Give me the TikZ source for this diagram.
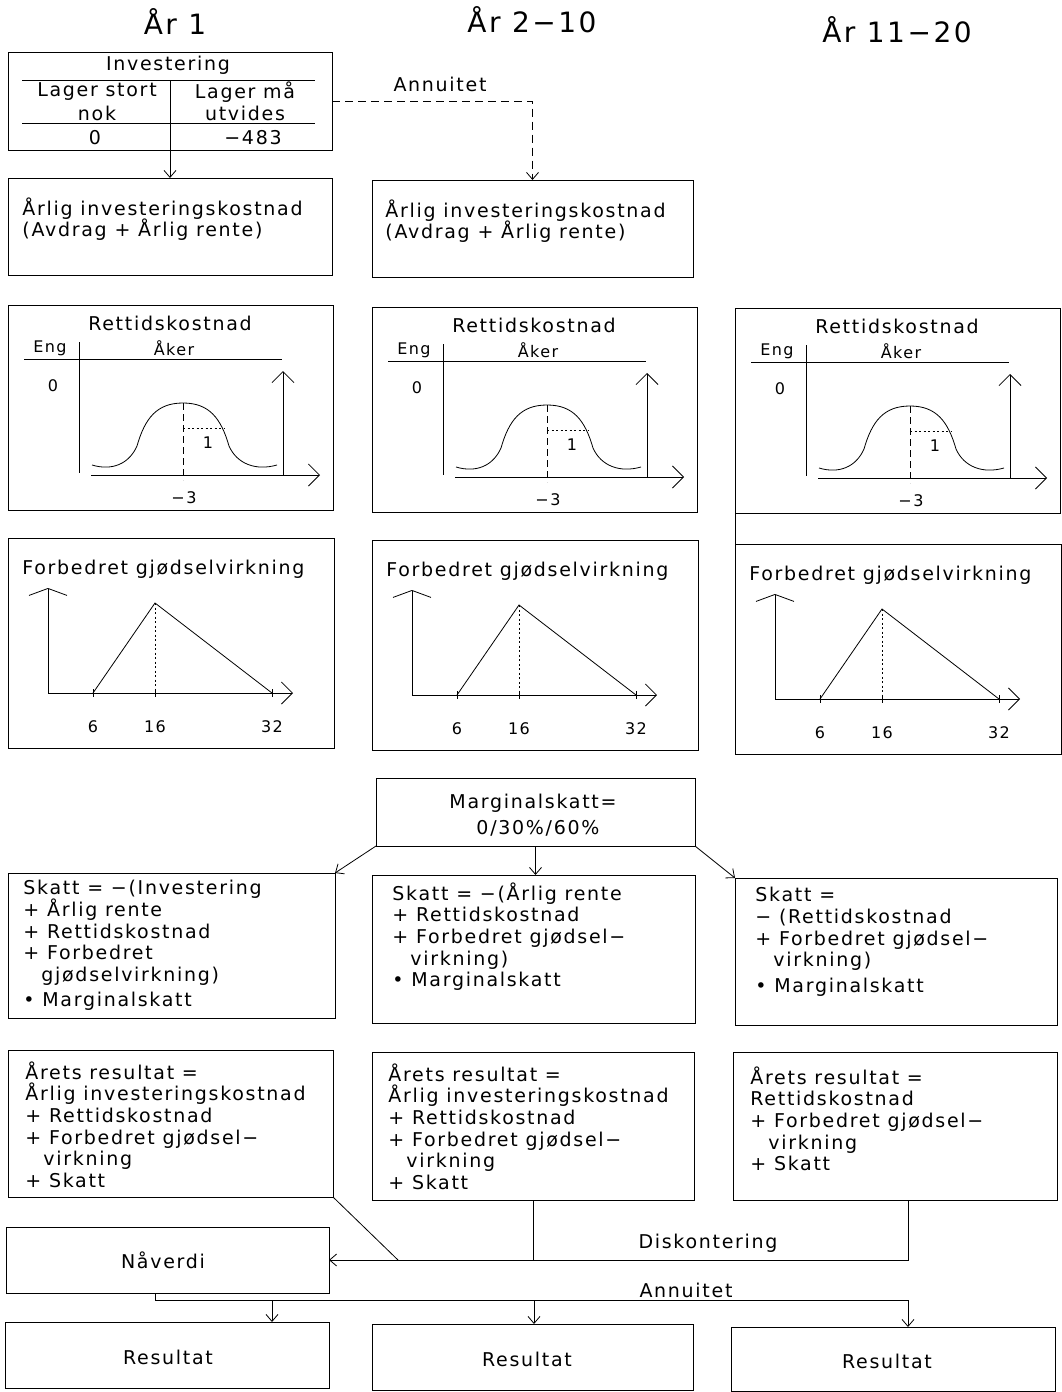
\documentclass[tikz,border=0pt]{standalone}
\usepackage{fontspec}
\setmainfont{DejaVu Sans}[LetterSpace=9]
\usetikzlibrary{arrows.meta}
\newcommand\mybox[5]{\node[boxsty, minimum width={(#4-#2)*1pt}, minimum height={(#5-#3)*1pt}] (#1) at (#2,#3) {};}
\newcommand\rettgraph[3]{%
\begin{scope}[shift={(#2,#3)}]
\mybox{#1box}{8}{305}{333}{510}
\node[txt] (#1title) at (170,323) {Rettidskostnad};
\node[stxt] (#1eng) at (50,348) {Eng};
\node[stxt] (#1aker) at (174,348) {Åker};
\node[stxt] (#1zero) at (53,386) {0};
\node[ttxt] (#1one) at (208,443) {1};
\node[ttxt] (#1m3) at (184,498) {−3};
\draw (24,359) -- (282,359);
\draw (79,342) -- (79,473);
\draw[axarrow] (91,475) -- (320,475);
\draw[axarrow] (283,475) -- (283,371);
\draw (92,465) .. controls (112,471) and (129,464) .. (137,446)
  .. controls (145,418) and (157,403) .. (183,403)
  .. controls (209,403) and (221,418) .. (229,446)
  .. controls (237,464) and (256,471) .. (277,465);
\draw[dash pattern=on 7pt off 4pt] (183,403) -- (183,480);
\draw[dash pattern=on 2pt off 2.5pt] (183,428) -- (224,428);
\end{scope}}
\newcommand\forbgraph[3]{%
\begin{scope}[shift={(#2,#3)}]
\mybox{#1box}{8}{538}{334}{748}
\node[txt, anchor=west] (#1title) at (22,569) {Forbedret gjødselvirkning};
\draw[yarrow] (48,693) -- (48,588);
\draw[axarrow] (48,693) -- (293,693);
\draw (93,693) -- (155,603) -- (272,693);
\draw[dash pattern=on 2pt off 2.5pt] (155,603) -- (155,693);
\draw (93,689) -- (93,697) (155,689) -- (155,697) (272,689) -- (272,697);
\node[stxt] (#1six) at (93,727) {6};
\node[stxt] (#1sixteen) at (155,727) {16};
\node[stxt] (#1tt) at (272,727) {32};
\end{scope}}
\begin{document}
\begin{tikzpicture}[x=1pt,y=-1pt, line width=0.8pt,
 boxsty/.style={draw, line width=0.9pt, inner sep=0pt, outer sep=0pt, anchor=north west},
 txt/.style={inner sep=0pt, font=\fontsize{19}{21.7}\selectfont},
 mtxt/.style={txt, align=left, anchor=north west},
 stxt/.style={inner sep=0pt, font=\fontsize{16}{18}\selectfont},
 ttxt/.style={inner sep=0pt, font=\fontsize{16}{18}\selectfont},
 htxt/.style={inner sep=0pt, font=\fontsize{28}{32}\selectfont},
 conn/.style={-{Straight Barb[length=7pt,width=12pt]}},
 axarrow/.style={-{Straight Barb[length=11pt,width=22pt]}},
 yarrow/.style={-{Straight Barb[length=7pt,width=38pt]}},
 ]
\useasboundingbox (0,0) rectangle (1062,1392);
\fill[white] (0,0) rectangle (1062,1392);

% headers
\node[htxt] (h1) at (175,22) {År 1};
\node[htxt] (h2) at (532,20) {År 2−10};
\node[htxt] (h3) at (897,30) {År 11−20};

% investering
\mybox{inv}{8}{52}{332}{150}
\node[txt] (invt) at (168,65) {Investering};
\draw (22,80) -- (315,80) (22,123) -- (315,123) (170,80) -- (170,150);
\node[txt] (ls) at (97,92) {Lager stort};
\node[txt] (nok) at (97,113) {nok};
\node[txt] (lm) at (245,92) {Lager må};
\node[txt] (utv) at (245,113) {utvides};
\node[txt] (z0) at (95,138) {0};
\node[txt] (m483) at (253,138) {−483};

% aarlig
\mybox{ar1}{8}{178}{332}{275}
\node[mtxt] (ar1t) at (22,197) {Årlig investeringskostnad\\(Avdrag + Årlig rente)};
\mybox{ar2}{372}{180}{693}{277}
\node[mtxt] (ar2t) at (385,199) {Årlig investeringskostnad\\(Avdrag + Årlig rente)};
\draw[conn] (inv.south) -- (ar1.north);
\draw[conn, dash pattern=on 8pt off 5pt] (inv.east) -| (ar2.north);
\node[txt] (ann1) at (440,84) {Annuitet};

% graphs
\rettgraph{ra}{0}{0}
\rettgraph{rb}{364}{2}
\rettgraph{rc}{727}{3}
\forbgraph{fa}{0}{0}
\forbgraph{fb}{364}{2}
\forbgraph{fc}{727}{6}
\draw (rcbox.south west) -- (fcbox.north west);

% marginalskatt
\mybox{marg}{376}{778}{695}{846}
\node[txt] (margt1) at (533,803) {Marginalskatt=};
\node[txt] (margt2) at (538,828) {0/30\%/60\%};

% skatt
\mybox{sk1}{8}{873}{335}{1018}
\mybox{sk2}{372}{875}{695}{1023}
\mybox{sk3}{735}{878}{1057}{1025}
\draw[conn] (marg.south west) -- (sk1.north east);
\draw[conn] (marg.south) -- (marg.south |- sk2.north);
\draw[conn] (marg.south east) -- (sk3.north west);
\node[mtxt] (sk1t) at (23,880) {Skatt = −(Investering\\+ Årlig rente\\+ Rettidskostnad\\+ Forbedret\\\hspace*{18pt}gjødselvirkning)\\[3pt]• Marginalskatt};
\node[mtxt] (sk2t) at (392,882) {Skatt = −(Årlig rente\\+ Rettidskostnad\\+ Forbedret gjødsel−\\\hspace*{18pt}virkning)\\• Marginalskatt};
\node[mtxt] (sk3t) at (755,887) {Skatt =\\− (Rettidskostnad\\+ Forbedret gjødsel−\\\hspace*{18pt}virkning)\\[4pt]• Marginalskatt};

% aarets resultat
\mybox{rs1}{8}{1050}{333}{1197}
\mybox{rs2}{372}{1052}{694}{1200}
\mybox{rs3}{733}{1052}{1057}{1200}
\node[mtxt] (rs1t) at (25,1061) {Årets resultat =\\Årlig investeringskostnad\\+ Rettidskostnad\\+ Forbedret gjødsel−\\\hspace*{18pt}virkning\\+ Skatt};
\node[mtxt] (rs2t) at (388,1063) {Årets resultat =\\Årlig investeringskostnad\\+ Rettidskostnad\\+ Forbedret gjødsel−\\\hspace*{18pt}virkning\\+ Skatt};
\node[mtxt] (rs3t) at (750,1066) {Årets resultat =\\Rettidskostnad\\+ Forbedret gjødsel−\\\hspace*{18pt}virkning\\+ Skatt};

% naaverdi
\mybox{nav}{6}{1227}{329}{1293}
\node[txt] (navt) at (163,1260) {Nåverdi};
\coordinate (dj) at (398,1260);
\draw (rs1.south east) -- (dj);
\draw (rs2.south) -- (rs2.south |- nav.east);
\draw[conn] ([xshift=13pt]rs3.south) |- (nav.east);
\node[txt] (disk) at (708,1243) {Diskontering};

% resultat
\mybox{re1}{5}{1322}{329}{1388}
\mybox{re2}{372}{1324}{693}{1390}
\mybox{re3}{731}{1327}{1055}{1391}
\node[txt] (re1t) at (168,1357) {Resultat};
\node[txt] (re2t) at (527,1359) {Resultat};
\node[txt] (re3t) at (887,1361) {Resultat};
\draw[conn] ([xshift=-12.5pt]nav.south) -- ++(0,7) -| ([xshift=15pt]re3.north);
\coordinate (a1) at (272,1300);
\coordinate (a2) at (534,1300);
\draw[conn] (a1) -- (a1 |- re1.north);
\draw[conn] (a2) -- (a2 |- re2.north);
\node[txt] (ann2) at (686,1290) {Annuitet};
\end{tikzpicture}
\end{document}
